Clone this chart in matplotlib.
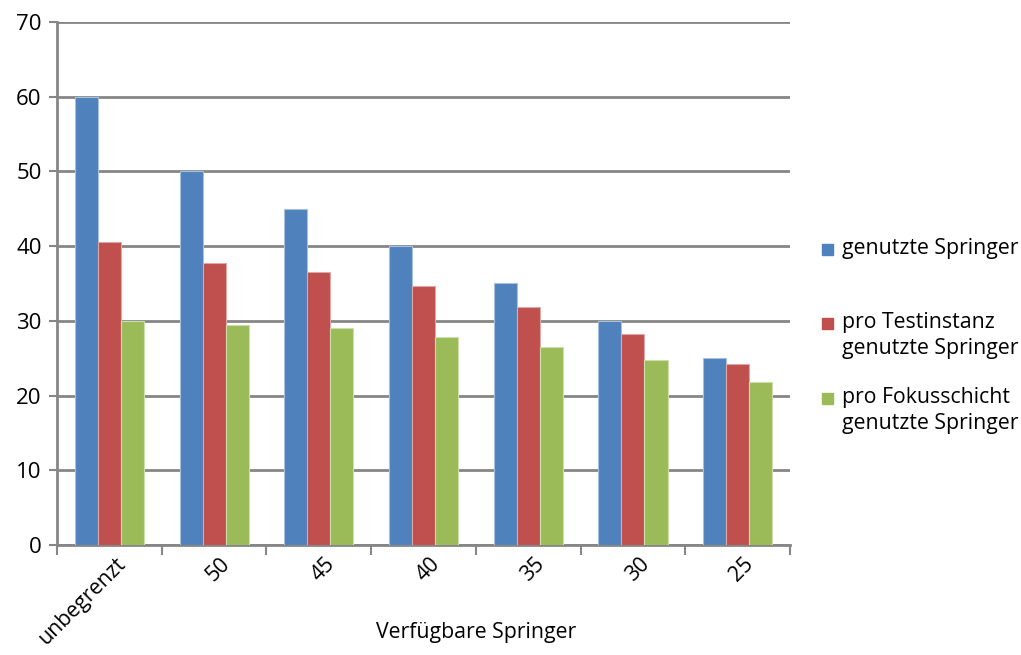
import matplotlib.pyplot as plt
import numpy
from matplotlib.patches import Rectangle

categories = ['unbegrenzt', '50', '45', '40', '35', '30', '25']
genutzt = [60, 50, 45, 40, 35, 30, 25]
pro_testinstanz = [40.5, 37.7, 36.6, 34.6, 31.9, 28.3, 24.2]
pro_fokusschicht = [30.0, 29.5, 29.0, 27.9, 26.5, 24.8, 21.8]

series_labels = ['genutzte Springer',
                 'pro Testinstanz\ngenutzte Springer',
                 'pro Fokusschicht\ngenutzte Springer']
colors = ['#4F81BD', '#C0504D', '#9BBB59']
edges = ['#A7C0DE', '#DFA8A6', '#CDDDAC']

plt.rcParams['font.family'] = ['Open Sans', 'DejaVu Sans']
FS = 15.3

fig = plt.figure(figsize=(10.21, 6.55), dpi=100)
ax = fig.add_axes([0.0558, 0.168, 0.7180, 0.7984])

x = numpy.arange(len(categories))
width = 0.22
for i, values in enumerate([genutzt, pro_testinstanz, pro_fokusschicht]):
    ax.bar(x + (i - 1) * width, values, width, color=colors[i],
           edgecolor=edges[i], linewidth=0.8, zorder=3)

ax.set_xlim(-0.5, len(categories) - 0.5)
ax.set_ylim(0, 70)
ax.set_yticks(range(0, 71, 10))
ax.tick_params(axis='y', length=6, width=1.5, color='#868686', labelsize=16, pad=5)
ax.yaxis.grid(True, color='#868686', linewidth=2, zorder=0)

# tick marks sit between the groups, labels at group centres
ax.set_xticks(numpy.arange(-0.5, len(categories), 1.0))
ax.set_xticklabels([])
ax.tick_params(axis='x', length=7, width=1.5, color='#868686')
for xi, label in zip(x, categories):
    ax.annotate(label, xy=(xi, 0), xycoords=('data', 'axes fraction'),
                xytext=(4, -6), textcoords='offset points',
                rotation=45, ha='right', va='top', rotation_mode='anchor',
                fontsize=FS)

for side in ['top', 'right']:
    ax.spines[side].set_visible(False)
ax.spines['left'].set_color('#868686')
ax.spines['left'].set_linewidth(2)
ax.spines['bottom'].set_color('#868686')
ax.spines['bottom'].set_linewidth(2)

fig.text(0.466, 0.035, 'Verfügbare Springer', ha='center', va='center', fontsize=FS)

# legend drawn by hand so the swatch lines up with the first text line
legend_y = [0.623, 0.510, 0.395]
for yy, label, color in zip(legend_y, series_labels, colors):
    fig.add_artist(Rectangle((0.8055, yy - 0.012), 0.0105, 0.0165,
                             transform=fig.transFigure, color=color))
    fig.text(0.8245, yy + 0.0135, label, ha='left', va='top', fontsize=FS,
             linespacing=1.3)

plt.savefig('out.png', dpi=100, facecolor='w')
